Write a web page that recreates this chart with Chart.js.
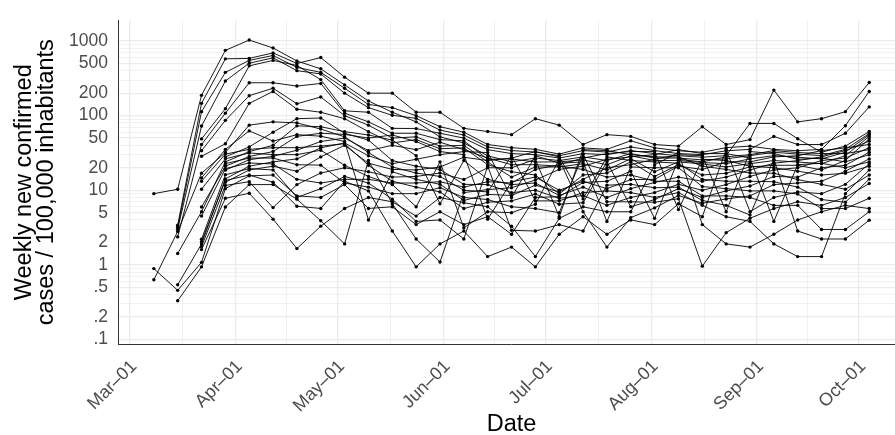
<!DOCTYPE html>
<html><head><meta charset="utf-8">
<script src="https://cdn.jsdelivr.net/npm/chart.js@4.4.1/dist/chart.umd.min.js"></script>
<style>
html,body{margin:0;padding:0;background:#fff;overflow:hidden;width:895px;height:435px}
#wrap{position:absolute;left:0;top:0;width:910px;height:435px}
</style>
</head><body><div id="wrap"><canvas id="c" width="910" height="435"></canvas></div>
<script>
// ---- data ----
const weekDates = ["2020-03-08","2020-03-15","2020-03-22","2020-03-29","2020-04-05","2020-04-12","2020-04-19","2020-04-26",
  "2020-05-03","2020-05-10","2020-05-17","2020-05-24","2020-05-31","2020-06-07","2020-06-14","2020-06-21","2020-06-28",
  "2020-07-05","2020-07-12","2020-07-19","2020-07-26","2020-08-02","2020-08-09","2020-08-16","2020-08-23","2020-08-30",
  "2020-09-06","2020-09-13","2020-09-20","2020-09-27","2020-10-04"];
const monthBreaks = ["2020-03-01","2020-04-01","2020-05-01","2020-06-01","2020-07-01","2020-08-01","2020-09-01","2020-10-01"];
const monthLabels = ["Mar–01","Apr–01","May–01","Jun–01","Jul–01","Aug–01","Sep–01","Oct–01"];
const yBreaks = [0.1,0.2,0.5,1,2,5,10,20,50,100,200,500,1000];
const yBreakLabels = [".1",".2",".5","1","2","5","10","20","50","100","200","500","1000"];
const yMinorGrid = [0.3,0.4,0.6,0.7,0.8,0.9,3,4,6,7,8,9,30,40,60,70,80,90,300,400,600,700,800,900];

const r01 = [9.0,10.3,187,750,1030,807,540,424,258,157,111,82.5,52,43,29,24,27,25,28,25,31,27,27,25.5,26.3,29.1,32.3,30.5,29.1,35.3,57.6];
const r02 = [null,3.4,146,577,585,693,500,600,328,200,200,111,111,67.5,61.3,55.6,91,74.5,41,55.6,52.7,41,39,71,41,47.7,220,82.5,91,113,278];
const r03 = [null,3.2,113,380,550,640,443,380,233,141,128,100,71,60,41,37.2,35.3,30.5,37,35.3,46,37,33.8,32.3,37.2,39,35.3,33.8,35.3,73.3,211];
const r04 = [null,3.0,72.5,291,505,595,401,362,200,128,101,92,64,55,38,34,32.5,29,34,32.5,38,34,31,30,33.8,35.3,52.7,41,41,58,131];
const r05 = [null,null,48.8,124,465,550,470,304,116,111,67.5,67,58,50,35,31,30,27,31,30,34,31,29,27.7,29.1,78.6,78.6,49,32.3,39,61.3];
const r06 = [null,2.37,41,108,276,276,249,270,108,82.5,58,58,47.7,46,26,26.3,23.9,24,25.5,22,29,25,25,23.5,22.7,26.3,29.1,27.7,26.3,32.3,55.6];
const r07 = [null,null,33.8,86.5,185,233,144,178,100,74.5,50,52,39,40,23.9,15,20.5,20.5,22.7,18.7,26.5,17.7,24,22.5,20.5,22.7,25,23.9,22.7,29.1,52.7];
const r08 = [null,null,28.5,42,146,211,122,111,91,61,43,47.7,36,37,22,17.7,16,8.9,16,17,24,15.3,22,16,16.9,20.5,21.6,21.6,18.7,25,49];
const r09 = [0.63,2.8,16.9,32,74.5,82.5,80,66,52,32,20.5,17,15.3,10,9.5,29,7.2,7.2,9.3,9.8,9.3,8,9.3,6.3,4.42,3.82,1.91,1.29,1.29,9,18.7];
const r10 = [null,1.42,5.15,24,33,40,73,71,61,55,47,29.1,6.6,25,14,11.9,12.5,8.5,11,8.0,10.5,12.7,15,13.2,15,18.7,23,25,28,34,45.5];
const r11 = [null,0.54,1.9,14.2,21,24,26.3,37,43,29,22.7,26,30,33,32,8,29,23,24,3.82,20.5,20,20,11.2,10.5,9.8,9.8,8.9,5.68,5.68,7.8];
const r12 = [0.89,0.455,1.08,10.5,15.6,16,8.4,8,11.9,5.7,6.0,3.46,5.15,3.46,4.42,2.57,8,8.2,12.7,13.2,18,4.2,26,24,28,30,34,32,31,31,35];
const r13 = [null,0.33,0.94,5.96,11.9,11.9,7.6,3.9,1.91,25,6.6,2.22,1.09,9.3,10.2,10.8,13.7,19,21,26,28,30,35,31,31,27,3.82,22,23,20,24];
const r14 = [null,null,14.6,35.3,62.4,45.6,55.6,53,45,4.0,17.7,14,12,7.3,8.8,8.5,11.7,9.5,14,20,22,26,30,29,5.15,33,31,26,27,24,29.9];
const r15 = [null,null,13.2,30.5,35.3,37.2,37.2,39,42,21.6,13.2,11,9.5,5.68,6.9,7.2,8.9,6.5,6.8,24,6,7.5,10.5,8,9.8,11.4,15.3,15,20,21.6,32.3];
const r16 = [null,null,10.3,26.4,31.6,30,30,34.4,21.6,15.3,11.9,6,24,3.14,5.15,5,6.5,26,5.15,1.73,4.3,5.8,8.5,6.7,7.64,8.4,11.9,12.5,13.2,18,26.3];
const r17 = [null,null,5.96,21,28.3,33,52.7,58,56,50,55,45,33,30,4.1,13,15,10,13.2,10.5,13.9,14,21,19,24,24,28,29,34,37,41];
const r18 = [null,null,4.5,19.5,23.2,22.5,14,12.5,14,14,12.5,12.5,13,11,13,12.5,19,22,27,31,33,33,5.5,26,25,21,20,18,16,16.9,21];
const r19 = [null,null,2.2,16.1,19.5,18.7,8.0,10.5,15.3,12.5,7.6,3.82,4.0,2.22,21,2.9,2.84,3.46,2.84,11.7,12,10.8,11,7.3,6.27,4.66,26,2.84,2.22,2.22,3.97];
const r20 = [null,null,2.05,13.5,16,12.8,6.1,5.7,13.2,9.8,2.84,0.94,1.91,2.84,1.29,1.73,0.94,2.57,4.42,2.57,4.0,3.46,6.6,4.42,35,5.15,8.0,9.5,9,12,22.7];
const r21 = [null,null,1.75,11.6,13,5.85,11.9,17,20,17.7,15,15.3,17,13.9,20,20,26,4.42,35,34,30,28,28,21,19,17,16.9,13.9,12,10.3,16];
const r22 = [null,null,1.6,7.8,9.1,4.1,1.65,3.3,5.68,8.0,7,4.5,8.0,6.8,6,3.29,1.29,4.2,6,5.15,5.15,22,32,3.46,1.91,1.73,2.57,4.0,5.15,6.27,5.68];
const r23 = [null,null,null,28,38.1,60,91,93,58,47,25,21,19,12,11.9,9.3,10,7.8,8.5,6.3,8,9.3,12,10,11.9,15.3,18.7,20,25,27,37.2];
const r24 = [null,null,null,22.7,27,27,22,21.7,12.5,11,9,9,10.8,8,7.5,6,5.68,5,30,7,7,6.9,7.7,0.96,2.7,4.21,5.68,7,6.27,8.0,12.3];
const r25 = [null,null,null,18.6,25.6,28.5,34.4,45,50,34,40,35,44,35,27,22,22,21,19,15,16,13.2,13.2,8.4,8.4,8.0,6.27,6.27,2.98,2.98,5.15];
const r26 = [null,null,null,12.8,18.7,21,18,28,40,23,19,18.7,20.5,27.7,25,27,33,28,7.64,28,25,24,23,14,13.2,13.2,13,11,7.5,6.9,14.1];

const allSeries = [r01,r02,r03,r04,r05,r06,r07,r08,r09,r10,r11,r12,r13,r14,r15,r16,r17,r18,r19,r20,r21,r22,r23,r24,r25,r26];

// ---- build ----
const day0 = Date.UTC(2020,2,1);
const toDay = s => (Date.parse(s + "T00:00:00Z") - day0) / 864e5;
const weekDays = weekDates.map(toDay);
const monthDays = monthBreaks.map(toDay);
const midDays = [];
for (let i = 0; i < monthDays.length - 1; i++) midDays.push((monthDays[i] + monthDays[i+1]) / 2);

const near = (a, b) => Math.abs(a - b) <= 1e-6 * Math.max(1, Math.abs(b));
const isYMajor = v => yBreaks.some(b => near(v, b));
const isXMajor = v => monthDays.some(b => near(v, b));

const datasets = allSeries.map(arr => ({
  data: weekDays.map((d, i) => ({x: d, y: arr[i]})),
  borderColor: '#000',
  backgroundColor: '#000',
  borderWidth: 0.9,
  pointRadius: 1.7,
  pointHoverRadius: 1.7,
  pointBorderWidth: 0,
  pointBackgroundColor: '#000',
  tension: 0,
  spanGaps: true
}));

Chart.defaults.font.family = "'Liberation Sans', Arial, Helvetica, sans-serif";

new Chart(document.getElementById('c'), {
  type: 'line',
  data: { datasets },
  options: {
    responsive: false,
    animation: false,
    devicePixelRatio: 1,
    layout: { padding: { left: 0, top: 8, right: 5, bottom: 0 } },
    plugins: { legend: { display: false }, tooltip: { enabled: false } },
    scales: {
      x: {
        type: 'linear',
        min: -3.52,
        max: 227.5,
        afterBuildTicks: s => {
          const vals = monthDays.concat(midDays).filter(v => v >= s.min && v <= s.max).sort((a,b)=>a-b);
          s.ticks = vals.map(v => ({value: v}));
        },
        afterFit: s => { s.height = 91; },
        ticks: {
          autoSkip: false,
          maxRotation: 45,
          minRotation: 45,
          padding: 12,
          labelOffset: 4,
          color: '#4D4D4D',
          font: { size: 18 },
          callback: v => {
            const i = monthDays.findIndex(b => near(v, b));
            return i >= 0 ? monthLabels[i] : '';
          }
        },
        grid: {
          color: '#EBEBEB',
          lineWidth: ctx => (ctx.tick && isXMajor(ctx.tick.value)) ? 1.3 : 0.7,
          drawTicks: false
        },
        border: { display: true, color: '#333333', width: 1 },
        title: {
          display: true,
          text: 'Date',
          color: '#000',
          font: { size: 23.5, lineHeight: 0.9 },
          padding: { top: 0, bottom: 0 }
        }
      },
      y: {
        type: 'logarithmic',
        min: 0.0869,
        max: 1884,
        afterBuildTicks: s => {
          const vals = yBreaks.concat(yMinorGrid).sort((a,b)=>a-b);
          s.ticks = vals.map(v => ({value: v}));
        },
        afterFit: s => { s.width = 118; },
        ticks: {
          autoSkip: false,
          padding: 10,
          color: '#4D4D4D',
          font: { size: 17.5 },
          callback: v => {
            const i = yBreaks.findIndex(b => near(v, b));
            return i >= 0 ? yBreakLabels[i] : '';
          }
        },
        grid: {
          color: '#EBEBEB',
          lineWidth: ctx => (ctx.tick && isYMajor(ctx.tick.value)) ? 1.3 : 0.7,
          drawTicks: false
        },
        border: { display: true, color: '#333333', width: 1 },
        title: {
          display: true,
          text: ['Weekly new confirmed', 'cases / 100,000 inhabitants'],
          color: '#000',
          font: { size: 23.5, lineHeight: 0.92 },
          padding: { top: 14, bottom: 0 }
        }
      }
    }
  }
});
</script>
</body></html>
